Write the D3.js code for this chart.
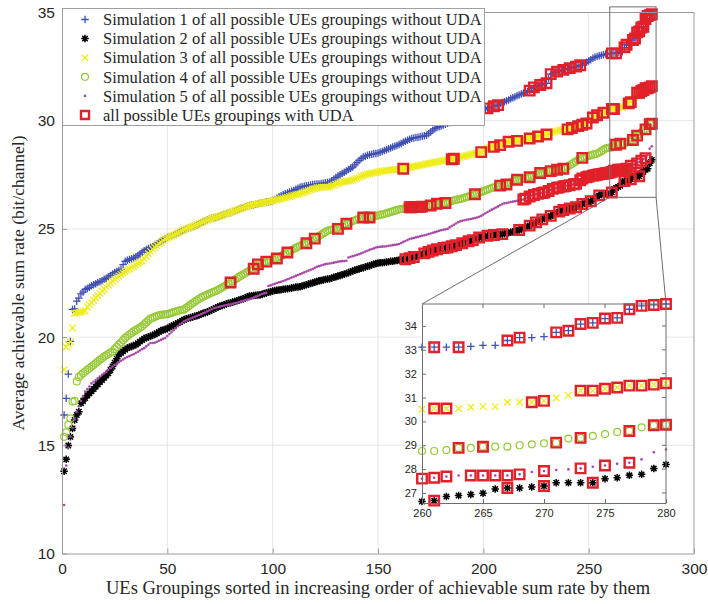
<!DOCTYPE html>
<html>
<meta charset="utf-8">
<script src="https://cdn.jsdelivr.net/npm/d3@7"></script>
<style>
  body { margin: 0; background: #fff; }
  svg text { fill: #262626; }
</style>
<body>
<div id="plot_area"></div>
<script>

// Simulation 1 (blue +), values for groupings 1..280
var sim1 = [
  16.40,17.17,18.29,19.80,21.28,21.30,21.66,21.80,22.00,22.08,
  22.20,22.25,22.30,22.37,22.42,22.46,22.52,22.56,22.60,22.67,
  22.72,22.78,22.85,22.92,22.98,23.03,23.08,23.13,23.35,23.50,
  23.55,23.59,23.62,23.66,23.70,23.76,23.84,23.92,23.99,24.05,
  24.10,24.14,24.18,24.25,24.31,24.38,24.44,24.50,24.55,24.60,
  24.64,24.68,24.72,24.77,24.82,24.86,24.92,24.95,24.99,25.03,
  25.07,25.11,25.15,25.19,25.23,25.27,25.32,25.37,25.41,25.45,
  25.49,25.51,25.53,25.56,25.60,25.63,25.66,25.70,25.73,25.76,
  25.80,25.84,25.88,25.92,25.95,25.98,26.02,26.05,26.08,26.10,
  26.12,26.14,26.16,26.18,26.20,26.22,26.24,26.26,26.28,26.31,
  26.36,26.42,26.48,26.53,26.58,26.62,26.66,26.70,26.74,26.77,
  26.83,26.88,26.93,26.95,26.97,26.99,27.01,27.03,27.05,27.06,
  27.07,27.08,27.10,27.11,27.13,27.14,27.16,27.22,27.30,27.37,
  27.44,27.50,27.56,27.62,27.68,27.74,27.80,27.86,27.96,28.06,
  28.16,28.25,28.32,28.36,28.40,28.43,28.45,28.47,28.48,28.51,
  28.54,28.58,28.62,28.66,28.70,28.74,28.78,28.82,28.85,28.90,
  28.95,29.00,29.05,29.10,29.14,29.18,29.20,29.22,29.24,29.26,
  29.28,29.30,29.33,29.40,29.48,29.56,29.63,29.68,29.72,29.76,
  29.80,29.84,29.88,29.92,29.96,30.00,30.04,30.08,30.12,30.15,
  30.19,30.23,30.27,30.31,30.35,30.38,30.42,30.45,30.48,30.51,
  30.54,30.57,30.61,30.64,30.67,30.70,30.72,30.78,30.84,30.88,
  30.92,30.96,31.01,31.06,31.10,31.15,31.19,31.23,31.27,31.31,
  31.35,31.39,31.48,31.54,31.58,31.62,31.65,31.68,31.71,31.73,
  31.95,32.15,32.19,32.23,32.27,32.30,32.33,32.35,32.38,32.40,
  32.43,32.45,32.48,32.50,32.53,32.56,32.58,32.64,32.70,32.76,
  32.82,32.89,32.93,32.97,33.00,33.03,33.05,33.08,33.10,33.11,
  33.11,33.11,33.11,33.14,33.19,33.19,33.39,33.51,33.51,33.55,
  33.73,33.80,34.08,34.13,34.31,34.34,34.70,34.84,34.88,34.92
];

// Simulation 2 (black *)
var sim2 = [
  13.80,14.35,14.99,15.39,15.78,16.17,16.40,16.55,16.94,17.05,
  17.18,17.30,17.40,17.50,17.60,17.71,17.82,17.92,18.02,18.12,
  18.22,18.33,18.48,18.64,18.82,19.00,19.19,19.27,19.35,19.42,
  19.49,19.53,19.57,19.61,19.65,19.72,19.79,19.86,19.93,19.97,
  20.01,20.04,20.08,20.12,20.18,20.24,20.30,20.33,20.35,20.40,
  20.45,20.50,20.55,20.60,20.65,20.70,20.76,20.81,20.84,20.87,
  20.90,20.93,20.96,20.99,21.02,21.06,21.10,21.13,21.17,21.20,
  21.25,21.30,21.35,21.39,21.43,21.46,21.50,21.53,21.56,21.59,
  21.62,21.65,21.68,21.71,21.74,21.77,21.81,21.86,21.90,21.91,
  21.92,21.93,21.94,21.95,21.98,22.01,22.04,22.07,22.10,22.13,
  22.15,22.16,22.18,22.19,22.21,22.22,22.24,22.25,22.27,22.29,
  22.31,22.32,22.33,22.36,22.39,22.42,22.45,22.48,22.51,22.54,
  22.57,22.60,22.62,22.64,22.66,22.68,22.70,22.73,22.76,22.79,
  22.82,22.85,22.88,22.91,22.94,22.98,23.02,23.06,23.09,23.12,
  23.15,23.18,23.21,23.24,23.27,23.30,23.34,23.37,23.40,23.42,
  23.43,23.44,23.45,23.47,23.48,23.50,23.51,23.53,23.54,23.56,
  23.57,23.58,23.60,23.62,23.65,23.67,23.70,23.73,23.76,23.80,
  23.83,23.87,23.90,23.94,23.97,24.00,24.03,24.06,24.08,24.10,
  24.12,24.13,24.14,24.17,24.20,24.23,24.25,24.28,24.31,24.34,
  24.37,24.40,24.43,24.46,24.48,24.52,24.56,24.60,24.62,24.64,
  24.66,24.68,24.70,24.71,24.72,24.73,24.74,24.75,24.76,24.78,
  24.80,24.82,24.85,24.87,24.90,24.92,24.95,24.99,25.03,25.07,
  25.11,25.15,25.20,25.25,25.30,25.35,25.40,25.44,25.48,25.52,
  25.56,25.60,25.65,25.70,25.75,25.80,25.85,25.87,25.90,25.92,
  25.94,25.96,25.98,26.00,26.05,26.10,26.15,26.18,26.21,26.24,
  26.28,26.35,26.42,26.48,26.55,26.59,26.61,26.62,26.63,26.64,
  26.68,26.85,26.89,26.94,26.99,27.17,27.21,27.21,27.25,27.29,
  27.43,27.43,27.43,27.43,27.60,27.64,27.74,27.78,28.03,28.19
];

// Simulation 3 (yellow x)
var sim3 = [
  18.49,19.54,19.68,19.78,20.42,21.10,21.12,21.14,21.16,21.19,
  21.22,21.39,21.50,21.60,21.70,21.82,21.92,22.02,22.13,22.22,
  22.31,22.40,22.50,22.59,22.67,22.75,22.83,22.90,22.96,23.02,
  23.09,23.15,23.21,23.27,23.34,23.40,23.46,23.52,23.63,23.74,
  23.85,23.96,24.07,24.15,24.23,24.31,24.39,24.46,24.53,24.58,
  24.62,24.67,24.72,24.77,24.81,24.86,24.92,24.96,25.00,25.04,
  25.08,25.12,25.16,25.20,25.24,25.28,25.32,25.36,25.40,25.44,
  25.48,25.51,25.53,25.57,25.60,25.63,25.67,25.70,25.73,25.77,
  25.80,25.84,25.87,25.91,25.94,25.97,26.01,26.05,26.08,26.10,
  26.12,26.14,26.16,26.18,26.20,26.22,26.24,26.26,26.28,26.31,
  26.33,26.35,26.37,26.39,26.42,26.44,26.47,26.50,26.53,26.56,
  26.58,26.60,26.62,26.66,26.70,26.73,26.77,26.80,26.84,26.87,
  26.90,26.92,26.93,26.93,26.93,26.93,26.94,26.98,27.02,27.06,
  27.10,27.14,27.16,27.18,27.20,27.21,27.23,27.26,27.30,27.34,
  27.38,27.43,27.47,27.50,27.53,27.55,27.57,27.59,27.61,27.63,
  27.65,27.67,27.68,27.70,27.71,27.72,27.73,27.74,27.75,27.76,
  27.77,27.78,27.80,27.82,27.84,27.86,27.88,27.90,27.92,27.94,
  27.96,27.98,28.00,28.02,28.04,28.06,28.08,28.10,28.12,28.14,
  28.15,28.17,28.19,28.20,28.22,28.24,28.26,28.28,28.31,28.34,
  28.36,28.39,28.41,28.44,28.46,28.49,28.51,28.53,28.55,28.62,
  28.68,28.72,28.75,28.77,28.79,28.82,28.85,28.87,28.91,28.95,
  28.99,29.03,29.04,29.05,29.06,29.07,29.09,29.11,29.13,29.15,
  29.17,29.18,29.20,29.23,29.25,29.27,29.29,29.31,29.34,29.36,
  29.40,29.43,29.46,29.49,29.52,29.56,29.57,29.58,29.59,29.60,
  29.63,29.66,29.69,29.72,29.75,29.78,29.81,29.84,29.87,29.98,
  30.08,30.15,30.20,30.25,30.29,30.33,30.37,30.42,30.47,30.51,
  30.54,30.54,30.54,30.59,30.62,30.62,30.80,30.80,30.80,30.86,
  30.98,31.09,31.29,31.29,31.37,31.42,31.50,31.50,31.54,31.60
];

// Simulation 4 (green o)
var sim4 = [
  15.39,15.60,15.96,16.24,17.02,17.05,17.95,18.15,18.26,18.33,
  18.41,18.49,18.56,18.64,18.71,18.79,18.87,18.95,19.02,19.10,
  19.16,19.22,19.28,19.33,19.44,19.55,19.65,19.75,19.86,19.96,
  20.04,20.12,20.19,20.26,20.32,20.38,20.44,20.50,20.59,20.68,
  20.77,20.85,20.89,20.93,20.97,21.01,21.03,21.04,21.05,21.06,
  21.09,21.12,21.15,21.18,21.21,21.24,21.26,21.28,21.35,21.42,
  21.49,21.56,21.63,21.70,21.76,21.82,21.87,21.92,21.96,22.01,
  22.05,22.09,22.13,22.18,22.23,22.29,22.35,22.40,22.46,22.52,
  22.58,22.65,22.71,22.78,22.84,22.90,22.95,23.01,23.06,23.11,
  23.16,23.21,23.36,23.39,23.42,23.46,23.49,23.52,23.55,23.58,
  23.61,23.63,23.69,23.74,23.80,23.86,23.91,23.96,24.02,24.07,
  24.12,24.17,24.22,24.26,24.30,24.34,24.40,24.45,24.50,24.55,
  24.61,24.67,24.73,24.79,24.85,24.91,24.95,24.97,24.98,24.99,
  25.00,25.06,25.12,25.18,25.24,25.28,25.32,25.36,25.40,25.43,
  25.47,25.50,25.53,25.53,25.53,25.53,25.55,25.58,25.60,25.62,
  25.65,25.67,25.70,25.72,25.75,25.78,25.81,25.84,25.87,25.90,
  25.92,25.94,25.96,25.98,26.00,26.00,26.01,26.01,26.02,26.02,
  26.03,26.04,26.05,26.06,26.08,26.11,26.14,26.16,26.17,26.18,
  26.19,26.20,26.23,26.26,26.29,26.32,26.34,26.36,26.38,26.41,
  26.44,26.47,26.50,26.53,26.57,26.60,26.64,26.68,26.71,26.75,
  26.78,26.82,26.85,26.89,26.92,26.96,26.98,27.00,27.02,27.04,
  27.05,27.10,27.15,27.20,27.24,27.27,27.29,27.31,27.33,27.35,
  27.37,27.39,27.43,27.47,27.51,27.55,27.58,27.60,27.62,27.64,
  27.66,27.67,27.69,27.71,27.73,27.75,27.77,27.78,27.83,27.88,
  27.94,28.00,28.06,28.12,28.18,28.23,28.28,28.31,28.34,28.37,
  28.40,28.43,28.46,28.48,28.53,28.59,28.65,28.71,28.74,28.76,
  28.76,28.80,28.89,28.89,28.94,28.94,28.94,29.00,29.04,29.08,
  29.11,29.28,29.31,29.39,29.47,29.56,29.60,29.75,29.84,29.86
];

// Simulation 5 (purple .)
var sim5 = [
  12.24,14.07,14.90,15.40,15.80,16.20,16.55,16.80,17.05,17.25,
  17.48,17.60,17.72,17.86,17.94,18.02,18.10,18.18,18.26,18.33,
  18.40,18.48,18.56,18.64,18.72,18.78,18.84,18.91,18.97,19.03,
  19.08,19.12,19.17,19.21,19.26,19.32,19.38,19.44,19.49,19.57,
  19.65,19.73,19.73,19.74,19.78,19.83,19.87,19.92,19.96,20.05,
  20.14,20.23,20.32,20.41,20.50,20.59,20.66,20.73,20.78,20.82,
  20.86,20.90,20.94,20.98,21.02,21.06,21.10,21.14,21.19,21.24,
  21.29,21.33,21.36,21.39,21.41,21.44,21.46,21.48,21.50,21.52,
  21.54,21.57,21.59,21.62,21.65,21.68,21.71,21.73,21.75,21.79,
  21.83,21.87,21.91,21.95,21.99,22.02,22.05,22.36,22.39,22.43,
  22.46,22.50,22.53,22.56,22.59,22.63,22.67,22.71,22.75,22.79,
  22.83,22.87,22.91,22.95,22.99,23.03,23.07,23.11,23.15,23.20,
  23.25,23.28,23.31,23.34,23.37,23.39,23.40,23.42,23.44,23.46,
  23.48,23.50,23.51,23.52,23.53,23.68,23.71,23.74,23.77,23.80,
  23.83,23.87,23.91,23.95,23.99,24.03,24.07,24.10,24.14,24.16,
  24.17,24.18,24.19,24.20,24.22,24.23,24.25,24.27,24.28,24.30,
  24.35,24.40,24.44,24.49,24.53,24.56,24.58,24.61,24.63,24.66,
  24.68,24.71,24.73,24.76,24.79,24.82,24.85,24.88,24.91,24.94,
  24.96,24.98,25.00,25.07,25.13,25.19,25.25,25.31,25.35,25.38,
  25.40,25.42,25.44,25.46,25.48,25.50,25.53,25.56,25.60,25.66,
  25.72,25.78,25.84,25.89,25.94,25.99,26.04,26.09,26.15,26.18,
  26.20,26.22,26.24,26.26,26.28,26.30,26.32,26.34,26.36,26.40,
  26.45,26.50,26.54,26.57,26.60,26.62,26.64,26.66,26.68,26.71,
  26.75,26.80,26.85,26.87,26.90,26.92,26.94,26.96,26.98,27.00,
  27.02,27.04,27.06,27.08,27.15,27.25,27.33,27.36,27.39,27.42,
  27.44,27.46,27.48,27.50,27.52,27.54,27.55,27.57,27.58,27.60,
  27.64,27.69,27.73,27.73,27.73,27.73,27.73,27.78,27.88,27.92,
  27.96,27.99,28.03,28.10,28.15,28.22,28.27,28.41,28.71,28.82
];

// groupings (1-based) that are also reached with UDA, per simulation
var uda1 = [202,205,207,222,224,227,230,232,235,238,241,244,246,261,263,267,268,271,272,273,274,275,276,277,278,279,280];
var uda2 = [163,165,167,172,174,176,178,181,183,185,187,190,193,195,198,202,205,209,217,222,225,228,232,236,238,241,244,247,251,255,261,267,270,274];
var uda3 = [162,185,186,199,205,208,212,216,222,226,230,240,242,245,247,249,252,254,257,261,262,269,270,273,274,275,276,277,278,279,280];
var uda4 = [80,91,93,97,102,107,116,120,131,135,143,146,165,166,167,168,169,170,171,175,178,182,196,208,211,216,222,227,232,235,238,247,263,265,271,273,277,279,280];
var uda5 = [219,220,222,224,226,228,229,231,233,235,236,238,239,241,243,244,246,247,249,250,252,253,254,255,256,257,258,259,260,261,262,264,265,266,267,268,270,273,275,277];

var xTicks = [0, 50, 100, 150, 200, 250, 300];
var yTicks = [10, 15, 20, 25, 30, 35];
var xTicksZoom = [260, 265, 270, 275, 280];
var yTicksZoom = [27, 28, 29, 30, 31, 32, 33, 34];

var legendLabels = [
  "Simulation 1 of all possible UEs groupings without UDA",
  "Simulation 2 of all possible UEs groupings without UDA",
  "Simulation 3 of all possible UEs groupings without UDA",
  "Simulation 4 of all possible UEs groupings without UDA",
  "Simulation 5 of all possible UEs groupings without UDA",
  "all possible UEs groupings with UDA"
];

var series = [
  {vals: sim1, type: "plus",   color: "#3f50b2"},
  {vals: sim2, type: "star",   color: "#000000"},
  {vals: sim3, type: "cross",  color: "#eeec18"},
  {vals: sim4, type: "circle", color: "#96c936"},
  {vals: sim5, type: "dot",    color: "#a846a8"}
];
var udaColor = "#e1202a";
var udaSets = [uda1, uda2, uda3, uda4, uda5];

var sansFont = "'Liberation Sans', Arial, Helvetica, sans-serif";
var serifFont = "'Liberation Serif', 'Times New Roman', serif";

var svg = d3.select("#plot_area")
  .append("svg")
    .attr("width", 708)
    .attr("height", 604);

var x = d3.scaleLinear().domain([0, 300]).range([62, 694]);
var y = d3.scaleLinear().domain([10, 35]).range([553.5, 12.5]);

// marker shapes, centred on 0,0
function markerPath(type, s) {
  var h = s / 2, d = h * 0.72;
  if (type == "plus") return "M" + (-h) + ",0H" + h + "M0," + (-h) + "V" + h;
  if (type == "cross") return "M" + (-h) + "," + (-h) + "L" + h + "," + h + "M" + (-h) + "," + h + "L" + h + "," + (-h);
  if (type == "star") return "M" + (-h) + ",0H" + h + "M0," + (-h) + "V" + h +
      "M" + (-d) + "," + (-d) + "L" + d + "," + d + "M" + (-d) + "," + d + "L" + d + "," + (-d);
  if (type == "square") return "M" + (-h) + "," + (-h) + "H" + h + "V" + h + "H" + (-h) + "Z";
  return "";
}

function drawMarks(g, pts, type, color, sx, sy) {
  if (type == "circle") {
    g.selectAll(null).data(pts).enter().append("circle")
      .attr("cx", function(d) { return sx(d.i); })
      .attr("cy", function(d) { return sy(d.v); })
      .attr("r", 3.5)
      .attr("fill", "none").attr("stroke", color).attr("stroke-width", 1.2);
  } else if (type == "dot") {
    g.selectAll(null).data(pts).enter().append("circle")
      .attr("cx", function(d) { return sx(d.i); })
      .attr("cy", function(d) { return sy(d.v); })
      .attr("r", 1.3)
      .attr("fill", color);
  } else {
    var size = {plus: 7.5, cross: 6.5, star: 7.5, square: 9.5}[type];
    var sw = {plus: 1.3, cross: 1.3, star: 1.5, square: 2.4}[type];
    g.selectAll(null).data(pts).enter().append("path")
      .attr("transform", function(d) { return "translate(" + sx(d.i) + "," + sy(d.v) + ")"; })
      .attr("d", markerPath(type, size))
      .attr("fill", "none")
      .attr("stroke", color)
      .attr("stroke-width", sw);
  }
}

function pointsOf(vals, lo, hi) {
  var out = [];
  vals.forEach(function(v, k) {
    var i = k + 1;
    if (i >= lo && i <= hi) out.push({i: i, v: v});
  });
  return out;
}

function udaPoints(lo, hi) {
  var out = [];
  udaSets.forEach(function(set, s) {
    set.forEach(function(i) {
      if (i >= lo && i <= hi) out.push({i: i, v: series[s].vals[i - 1]});
    });
  });
  return out;
}

// grid
var grid = svg.append("g");
grid.selectAll(null).data(xTicks.slice(1, -1)).enter().append("line")
  .attr("x1", function(d) { return x(d); }).attr("x2", function(d) { return x(d); })
  .attr("y1", y(10)).attr("y2", y(35))
  .attr("stroke", "#e6e6e6");
grid.selectAll(null).data(yTicks.slice(1, -1)).enter().append("line")
  .attr("y1", function(d) { return y(d); }).attr("y2", function(d) { return y(d); })
  .attr("x1", x(0)).attr("x2", x(300))
  .attr("stroke", "#e6e6e6");

// data
var dataG = svg.append("g");
series.forEach(function(s) {
  drawMarks(dataG.append("g"), pointsOf(s.vals, 1, 280), s.type, s.color, x, y);
});
drawMarks(dataG.append("g"), udaPoints(1, 280), "square", udaColor, x, y);

// axes
function styleAxis(g, size) {
  g.select(".domain").attr("stroke", "#9a9a9a");
  g.selectAll(".tick line").attr("stroke", "#9a9a9a");
  g.selectAll(".tick text").style("font-family", sansFont).style("font-size", size + "px").attr("fill", "#262626");
}
var gx = svg.append("g")
  .attr("transform", "translate(0," + y(10) + ")")
  .call(d3.axisBottom(x).tickValues(xTicks).tickSizeInner(-5).tickSizeOuter(0).tickPadding(9));
styleAxis(gx, 15.5);
var gy = svg.append("g")
  .attr("transform", "translate(" + x(0) + ",0)")
  .call(d3.axisLeft(y).tickValues(yTicks).tickSizeInner(-5).tickSizeOuter(0).tickPadding(7));
styleAxis(gy, 15.5);
svg.append("path")
  .attr("d", "M" + x(0) + "," + y(35) + "H" + x(300) + "V" + y(10))
  .attr("fill", "none").attr("stroke", "#9a9a9a");

svg.append("text")
  .attr("x", (x(0) + x(300)) / 2).attr("y", 594)
  .attr("text-anchor", "middle")
  .style("font-family", serifFont).style("font-size", "18.5px")
  .text("UEs Groupings sorted in increasing order of achievable sum rate by them");
svg.append("text")
  .attr("transform", "translate(24," + ((y(10) + y(35)) / 2) + ") rotate(-90)")
  .attr("text-anchor", "middle")
  .style("font-family", serifFont).style("font-size", "17.5px")
  .text("Average achievable sum rate (bit/channel)");

// legend
var legend = svg.append("g");
legend.append("rect")
  .attr("x", 62.5).attr("y", 8.5).attr("width", 422).attr("height", 117)
  .attr("fill", "#fff").attr("stroke", "#a0a0a0");
var legendTypes = ["plus", "star", "cross", "circle", "dot", "square"];
var legendColors = series.map(function(s) { return s.color; }).concat([udaColor]);
legendLabels.forEach(function(lab, k) {
  var ly = 19.5 + k * 19.1;
  var mg = legend.append("g");
  if (legendTypes[k] == "square") {
    mg.append("path").attr("transform", "translate(85," + ly + ")")
      .attr("d", markerPath("square", 8)).attr("fill", "none")
      .attr("stroke", udaColor).attr("stroke-width", 2.4);
  } else {
    drawMarks(mg, [{i: 0, v: 0}], legendTypes[k], legendColors[k],
      function() { return 85; }, function() { return ly; });
  }
  legend.append("text")
    .attr("x", 103).attr("y", ly).attr("dy", "0.35em")
    .style("font-family", serifFont).style("font-size", "16.5px")
    .text(lab);
});

// zoom box and connectors
var ix = d3.scaleLinear().domain([260, 280]).range([422, 666]);
var iy = d3.scaleLinear().domain([26.58, 34.92]).range([503, 304]);
var boxL = x(260), boxR = x(282), boxT = y(35.26), boxB = y(26.46);
svg.append("rect")
  .attr("x", boxL).attr("y", boxT).attr("width", boxR - boxL).attr("height", boxB - boxT)
  .attr("fill", "none").attr("stroke", "#6e6e6e");
svg.append("line").attr("x1", boxL).attr("y1", boxB).attr("x2", ix(260)).attr("y2", iy(34.92))
  .attr("stroke", "#6e6e6e");
svg.append("line").attr("x1", boxR).attr("y1", boxB).attr("x2", ix(280)).attr("y2", iy(34.92))
  .attr("stroke", "#6e6e6e");

// inset
var inset = svg.append("g");
inset.append("rect")
  .attr("x", ix(260)).attr("y", iy(34.92)).attr("width", ix(280) - ix(260)).attr("height", iy(26.58) - iy(34.92))
  .attr("fill", "#fff");
series.forEach(function(s) {
  drawMarks(inset.append("g"), pointsOf(s.vals, 260, 280), s.type, s.color, ix, iy);
});
drawMarks(inset.append("g"), udaPoints(260, 280), "square", udaColor, ix, iy);

var igx = inset.append("g")
  .attr("transform", "translate(0," + iy(26.58) + ")")
  .call(d3.axisBottom(ix).tickValues(xTicksZoom).tickSizeInner(-4).tickSizeOuter(0).tickPadding(6));
styleAxis(igx, 11);
var igy = inset.append("g")
  .attr("transform", "translate(" + ix(260) + ",0)")
  .call(d3.axisLeft(iy).tickValues(yTicksZoom).tickSizeInner(-4).tickSizeOuter(0).tickPadding(5));
styleAxis(igy, 11);
inset.selectAll(".domain").attr("stroke", "#6e6e6e");
inset.selectAll(".tick line").attr("stroke", "#6e6e6e");
inset.append("path")
  .attr("d", "M" + ix(260) + "," + iy(34.92) + "H" + ix(280) + "V" + iy(26.58))
  .attr("fill", "none").attr("stroke", "#6e6e6e");
// top / right ticks of the inset box
inset.selectAll(null).data(xTicksZoom.slice(1, -1)).enter().append("line")
  .attr("x1", function(d) { return ix(d); }).attr("x2", function(d) { return ix(d); })
  .attr("y1", iy(34.92)).attr("y2", iy(34.92) + 4).attr("stroke", "#6e6e6e");
inset.selectAll(null).data(yTicksZoom).enter().append("line")
  .attr("y1", function(d) { return iy(d); }).attr("y2", function(d) { return iy(d); })
  .attr("x1", ix(280)).attr("x2", ix(280) - 4).attr("stroke", "#6e6e6e");

</script>
</body>
</html>
